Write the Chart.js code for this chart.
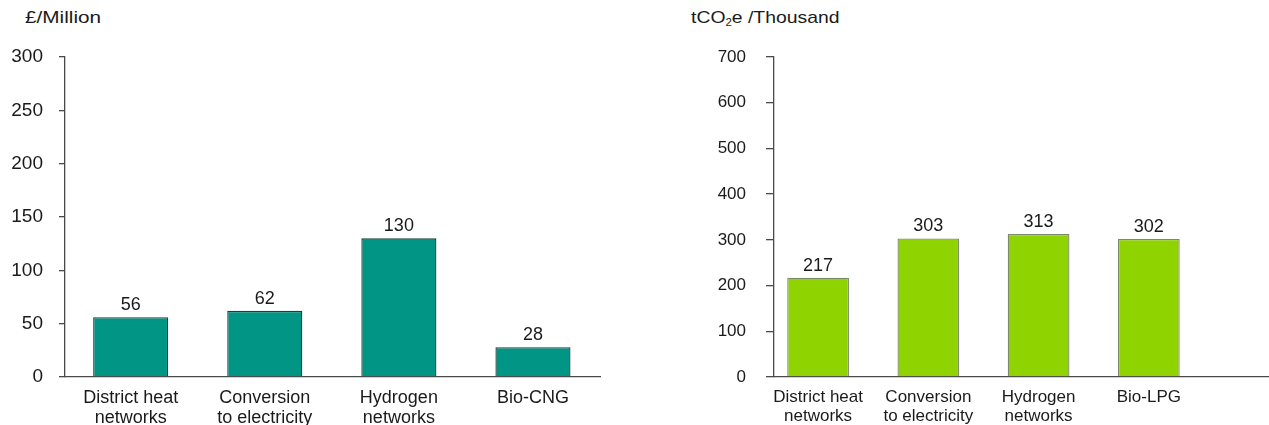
<!DOCTYPE html>
<html>
<head>
<meta charset="utf-8">
<script src="https://cdn.jsdelivr.net/npm/chart.js@4.4.1/dist/chart.umd.min.js"></script>
<style>
  html, body { margin: 0; padding: 0; background: #fff; }
  body { width: 1269px; height: 425px; position: relative; overflow: hidden;
         font-family: "Liberation Sans", Arial, sans-serif; color: #1a1a1a; }
  .panel { position: absolute; top: 0; height: 425px; }
  #leftPanel { left: 0; width: 634px; }
  #rightPanel { left: 634px; width: 635px; }
  .unit { position: absolute; white-space: nowrap; transform-origin: left top; }
  #leftUnit { left: 25px; top: 8px; font-size: 17px; transform: scaleX(1.22); }
  #rightUnit { left: 691px; top: 8px; font-size: 17px; transform: scaleX(1.14); }
  #rightUnit sub { font-size: 10px; vertical-align: -3px; }
</style>
</head>
<body>
<div class="unit" id="leftUnit">£/Million</div>
<div class="unit" id="rightUnit">tCO<sub>2</sub>e /Thousand</div>
<div class="panel" id="leftPanel"><canvas id="costChart"></canvas></div>
<div class="panel" id="rightPanel"><canvas id="carbonChart"></canvas></div>

<script>
// Cost of each pathway, £ million
const costCategories = [["District heat", "networks"], ["Conversion", "to electricity"], ["Hydrogen", "networks"], "Bio-CNG"];
const costValues = [56, 62, 130, 28];
const costTicks = [0, 50, 100, 150, 200, 250, 300];

// Emissions saved by each pathway, thousand tCO2e
const carbonCategories = [["District heat", "networks"], ["Conversion", "to electricity"], ["Hydrogen", "networks"], "Bio-LPG"];
const carbonValues = [217, 303, 313, 302];
const carbonTicks = [0, 100, 200, 300, 400, 500, 600, 700];

const FONT = '"Liberation Sans", Arial, sans-serif';
const TEXT = '#1a1a1a';
const AXIS = '#4a4a4a';

// writes each bar's value just above it
const valueLabels = {
  id: 'valueLabels',
  afterDatasetsDraw(chart, args, opts) {
    const ctx = chart.ctx;
    ctx.save();
    ctx.fillStyle = TEXT;
    ctx.font = opts.size + 'px ' + FONT;
    ctx.textAlign = 'center';
    ctx.textBaseline = 'alphabetic';
    chart.getDatasetMeta(0).data.forEach((bar, i) => {
      const v = chart.data.datasets[0].data[i].y;
      ctx.fillText(String(v), bar.x, bar.y - 7);
    });
    ctx.restore();
  }
};

function makeChart(id, cats, vals, ticks, cfg) {
  const points = vals.map((v, i) => ({ x: i, y: v }));
  return new Chart(document.getElementById(id), {
    type: 'bar',
    data: {
      datasets: [{
        data: points,
        backgroundColor: cfg.fill,
        borderColor: cfg.edge,
        borderWidth: 1.3,
        categoryPercentage: 1,
        barPercentage: 0.56
      }]
    },
    options: {
      responsive: true,
      maintainAspectRatio: false,
      animation: false,
      layout: { padding: { top: 57, right: cfg.padRight, left: 0, bottom: 0 } },
      plugins: {
        legend: { display: false },
        tooltip: { enabled: false },
        valueLabels: { size: cfg.valueSize }
      },
      scales: {
        x: {
          type: 'linear',
          offset: false,
          min: cfg.xMin,
          max: cfg.xMax,
          grid: { display: false, offset: false },
          border: { display: true, color: AXIS, width: 1.3 },
          afterBuildTicks: s => { s.ticks = cats.map((_, i) => ({ value: i })); },
          afterFit: s => { s.height = 48; },
          ticks: {
            autoSkip: false,
            maxRotation: 0,
            padding: 3,
            color: TEXT,
            font: { family: FONT, size: cfg.catSize, lineHeight: 1.1 },
            callback: v => cats[v]
          }
        },
        y: {
          min: ticks[0],
          max: ticks[ticks.length - 1],
          afterBuildTicks: s => { s.ticks = ticks.map(t => ({ value: t })); },
          afterFit: s => { s.width = cfg.yWidth; },
          grid: { display: true, drawOnChartArea: false, drawTicks: true, tickLength: cfg.tickLen, color: AXIS, lineWidth: 1.3 },
          border: { display: true, color: AXIS, width: 1.3 },
          ticks: {
            padding: cfg.tickPad,
            color: TEXT,
            font: { family: FONT, size: cfg.tickSize }
          }
        }
      }
    },
    plugins: [valueLabels]
  });
}

makeChart('costChart', costCategories, costValues, costTicks, {
  fill: '#009585', edge: '#1e3d38',
  xMin: -0.49, xMax: 3.5, padRight: 34, yWidth: 65,
  tickLen: 6, tickPad: 16, tickSize: 19, catSize: 18, valueSize: 18
});

makeChart('carbonChart', carbonCategories, carbonValues, carbonTicks, {
  fill: '#8fd400', edge: '#7d8a6a',
  xMin: -0.4, xMax: 4.09, padRight: 0, yWidth: 140,
  tickLen: 8, tickPad: 20, tickSize: 17, catSize: 17, valueSize: 18
});
</script>
</body>
</html>
